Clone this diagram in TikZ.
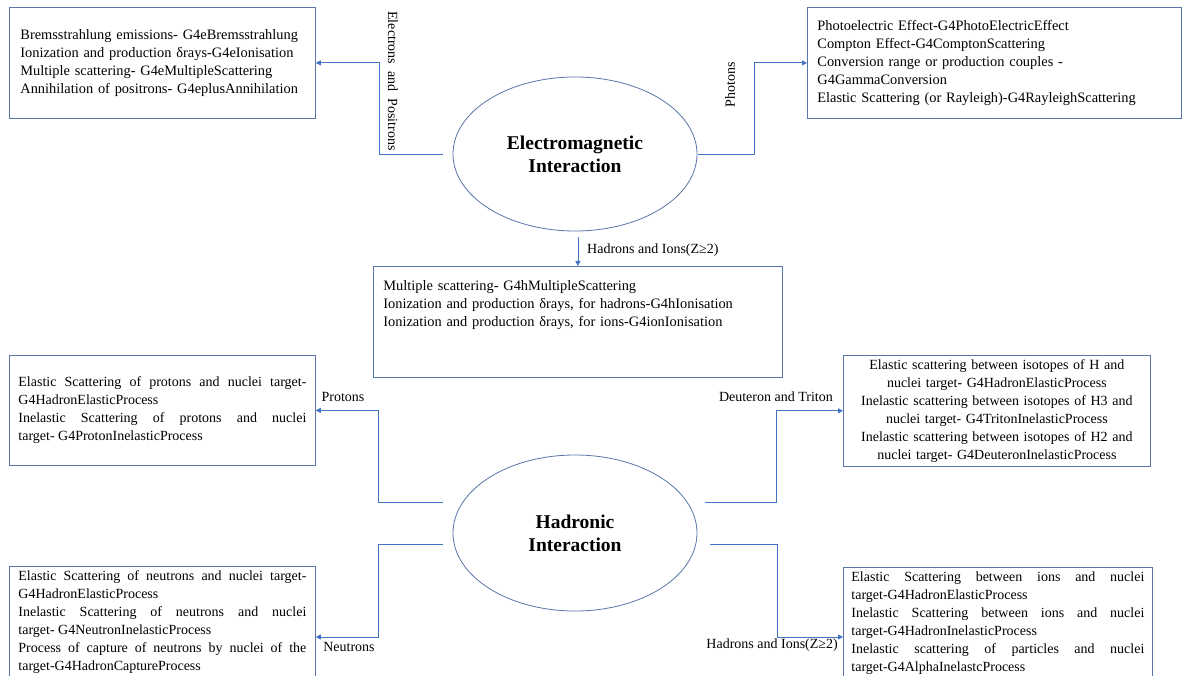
\documentclass[tikz,border=0pt]{standalone}
\usepackage{fontspec}
\setmainfont{Liberation Serif}
\usetikzlibrary{shapes.geometric,arrows.meta,calc}
\definecolor{conncol}{RGB}{68,114,196}
\definecolor{boxcol}{RGB}{90,118,168}
\newcommand{\bodyfs}{\fontsize{14}{18}\selectfont}
\newcommand{\widefs}{\fontsize{14.4}{18}\selectfont}
\newcommand{\titlefs}{\fontsize{19.5}{23}\selectfont\bfseries}
\begin{document}
\begin{tikzpicture}[x=1pt,y=-1pt,
  pbox/.style={draw=boxcol,line width=0.8pt,anchor=north west,font=\bodyfs,inner ysep=4pt},
  inter/.style={draw=boxcol,line width=0.8pt,ellipse,font=\titlefs,align=center,inner sep=0pt},
  conn/.style={draw=conncol,line width=0.8pt,-{Triangle[length=5pt,width=5pt]}},
  lab/.style={font=\bodyfs,inner sep=0pt}]
\clip (0,0) rectangle (1183,676);
\fill[white] (0,0) rectangle (1183,676);

% interactions
\node[inter,minimum width=244pt,minimum height=154pt] (em) at (575,154) {Electromagnetic\\Interaction};
\node[inter,minimum width=244pt,minimum height=156pt] (had) at (575,533) {Hadronic\\Interaction};

% boxes
\node[pbox,font=\widefs,inner xsep=11pt,text width=284pt,minimum height=111pt,align=left] (tl) at (9,7)
{Bremsstrahlung emissions- G4eBremsstrahlung\\
Ionization and production δrays-G4eIonisation\\
Multiple scattering- G4eMultipleScattering\\
Annihilation of positrons- G4eplusAnnihilation};

\node[pbox,font=\widefs,inner xsep=10pt,text width=354pt,minimum height=111pt,align=left] (tr) at (807,7)
{Photoelectric Effect-G4PhotoElectricEffect\\
Compton Effect-G4ComptonScattering\\
Conversion range or production couples -\\
G4GammaConversion\\
Elastic Scattering (or Rayleigh)-G4RayleighScattering};

\node[pbox,font=\widefs,inner xsep=10pt,text width=389pt,minimum height=111pt,align=left] (cb) at (373,266)
{Multiple scattering- G4hMultipleScattering\\
Ionization and production δrays, for hadrons-G4hIonisation\\
Ionization and production δrays, for ions-G4ionIonisation\\
~\\
~};

\node[pbox,inner xsep=9pt,text width=288pt,minimum height=110pt,align=justify] (pb) at (9,355)
{Elastic Scattering of protons and nuclei target-\linebreak
G4HadronElasticProcess\\
Inelastic Scattering of protons and nuclei\linebreak
target- G4ProtonInelasticProcess};

\node[pbox,inner xsep=8pt,text width=291pt,minimum height=110pt,align=center] (rm) at (843,355)
{Elastic scattering between isotopes of H and\\
nuclei target- G4HadronElasticProcess\\
Inelastic scattering between isotopes of H3 and\\
nuclei target- G4TritonInelasticProcess\\
Inelastic scattering between isotopes of H2 and\\
nuclei target- G4DeuteronInelasticProcess};

\node[pbox,inner xsep=9pt,text width=288pt,align=justify] (bl) at (9,566)
{Elastic Scattering of neutrons and nuclei target-\linebreak
G4HadronElasticProcess\\
Inelastic Scattering of neutrons and nuclei\linebreak
target- G4NeutronInelasticProcess\\
Process of capture of neutrons by nuclei of the\linebreak
target-G4HadronCaptureProcess};

\node[pbox,inner xsep=8pt,text width=293pt,align=justify] (br) at (843,567)
{Elastic Scattering between ions and nuclei\linebreak
target-G4HadronElasticProcess\\
Inelastic Scattering between ions and nuclei\linebreak
target-G4HadronInelasticProcess\\
Inelastic scattering of particles and nuclei\linebreak
target-G4AlphaInelastcProcess};

% connectors
\draw[conn] ([xshift=-10pt]em.west) -- ++(-63,0) |- (tl.east);
\draw[conn] ([xshift=1pt]em.east) -- ++(56,0) |- (tr.west);
\draw[conn] ([yshift=-6pt]em.south -| cb.north) -- (cb.north);
\draw[conn] ([xshift=-10pt,yshift=31pt]had.west) -- ++(-64,0) |- (pb.east);
\draw[conn] ([xshift=-10pt,yshift=-11pt]had.west) -- ++(-64,0) |- ([yshift=-71pt]bl.north east);
\draw[conn] ([xshift=8pt,yshift=31pt]had.east) -- ++(71,0) |- (rm.west);
\draw[conn] ([xshift=13pt,yshift=-11pt]had.east) -- ++(67,0) |- ([yshift=-70pt]br.north west);

% labels
\node[lab,rotate=-90] (lep) at (393,81) {Electrons\ \ and\ \ Positrons};
\node[lab,rotate=90] (lph) at (730,85) {Photons};
\node[lab,anchor=west] (lhi) at (587,250) {Hadrons and Ions(Z≥2)};
\node[lab] (lpr) at (343,397) {Protons};
\node[lab,anchor=east] (ldt) at (833,397) {Deuteron and Triton};
\node[lab] (lne) at (349,647) {Neutrons};
\node[lab,anchor=east] (lhi2) at (838,645) {Hadrons and Ions(Z≥2)};
\end{tikzpicture}
\end{document}
